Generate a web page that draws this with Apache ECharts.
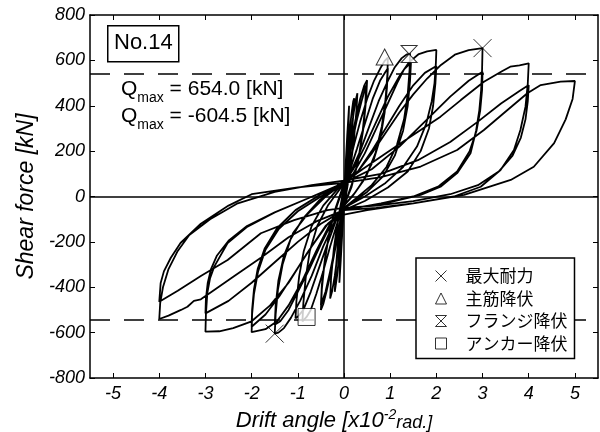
<!DOCTYPE html>
<html><head><meta charset="utf-8">
<script src="https://cdn.jsdelivr.net/npm/echarts@6/dist/echarts.min.js"></script>
<style>html,body{margin:0;padding:0;background:#fff}#c{width:600px;height:432px}</style>
</head><body><div id="c"></div>
<script>
// ---- tick labels ----
const xTicks = [-5, -4, -3, -2, -1, 0, 1, 2, 3, 4, 5];

// ---- hysteresis cycles (drift x10^-2 rad, shear kN) ----
const cycle01 = [[0,0],[0.03,120],[0.07,270],[0.11,400],[0.1,330],[0.07,200],[0.03,60],[0,-40],[-0.04,-170],[-0.07,-280],[-0.1,-380],[-0.09,-300],[-0.06,-180],[-0.02,-40],[0,30]];
const cycle02 = [[0.05,130],[0.1,250],[0.16,360],[0.2,420],[0.22,433],[0.2,360],[0.15,220],[0.08,80],[0.02,-20],[-0.05,-130],[-0.1,-250],[-0.15,-350],[-0.2,-420],[-0.18,-330],[-0.13,-200],[-0.06,-70],[0,30]];
const cycle03 = [[0.07,130],[0.14,260],[0.21,370],[0.26,430],[0.29,455],[0.27,380],[0.21,240],[0.12,100],[0.03,-10],[-0.06,-120],[-0.13,-240],[-0.2,-350],[-0.26,-420],[-0.3,-450],[-0.28,-360],[-0.22,-230],[-0.12,-90],[-0.02,20]];
const cycle04 = [[0.06,100],[0.15,230],[0.25,340],[0.35,430],[0.44,490],[0.5,513],[0.48,430],[0.42,300],[0.32,170],[0.18,60],[0.04,-20],[-0.08,-110],[-0.18,-220],[-0.28,-330],[-0.38,-420],[-0.45,-475],[-0.5,-500],[-0.48,-410],[-0.42,-290],[-0.32,-160],[-0.18,-50],[-0.03,40]];
const cycle05 = [[0.06,110],[0.16,220],[0.27,330],[0.38,420],[0.48,490],[0.46,400],[0.4,280],[0.3,150],[0.16,40],[0.02,-30],[-0.1,-120],[-0.2,-230],[-0.3,-330],[-0.4,-420],[-0.5,-480],[-0.48,-390],[-0.41,-270],[-0.3,-140],[-0.15,-40],[0,50]];
const cycle06 = [[0.1,130],[0.22,230],[0.35,330],[0.5,430],[0.65,510],[0.8,570],[0.88,598],[0.95,612],[0.94,540],[0.9,430],[0.82,310],[0.68,190],[0.48,90],[0.25,20],[0,-40],[-0.15,-120],[-0.3,-220],[-0.45,-330],[-0.6,-430],[-0.72,-500],[-0.81,-531],[-0.9,-550],[-0.88,-470],[-0.83,-360],[-0.74,-240],[-0.58,-130],[-0.35,-40],[-0.1,30],[0,60]];
const cycle07 = [[0.12,110],[0.28,210],[0.45,320],[0.62,430],[0.78,510],[0.9,550],[0.95,565],[0.93,480],[0.88,370],[0.79,260],[0.64,160],[0.42,70],[0.18,0],[0,-40],[-0.18,-110],[-0.36,-210],[-0.55,-320],[-0.72,-420],[-0.88,-500],[-1.0,-530],[-1.05,-537],[-1.03,-460],[-0.97,-350],[-0.87,-240],[-0.7,-130],[-0.45,-40],[-0.15,30],[0,60]];
const cycle08 = [[0.15,110],[0.35,200],[0.55,310],[0.75,420],[0.95,510],[1.1,570],[1.25,610],[1.35,625],[1.43,630],[1.42,560],[1.38,450],[1.3,340],[1.15,230],[0.92,130],[0.6,50],[0.25,-10],[0,-50],[-0.2,-110],[-0.45,-220],[-0.7,-350],[-0.95,-460],[-1.15,-535],[-1.3,-580],[-1.42,-600],[-1.5,-604.5],[-1.48,-520],[-1.43,-410],[-1.33,-300],[-1.16,-190],[-0.9,-100],[-0.55,-20],[-0.2,40],[0,70]];
const cycle09 = [[0.2,100],[0.45,190],[0.7,300],[0.95,410],[1.15,500],[1.3,560],[1.45,590],[1.43,510],[1.38,400],[1.28,290],[1.1,180],[0.85,90],[0.5,20],[0.15,-30],[0,-50],[-0.25,-110],[-0.5,-210],[-0.75,-320],[-1.0,-420],[-1.2,-500],[-1.38,-550],[-1.5,-565],[-1.48,-480],[-1.42,-370],[-1.3,-260],[-1.1,-160],[-0.8,-80],[-0.4,0],[0,60]];
const cycle10 = [[0.2,120],[0.45,220],[0.7,330],[0.95,440],[1.2,530],[1.4,590],[1.62,628],[1.8,640],[2.0,646],[1.99,590],[1.96,500],[1.9,420],[1.78,320],[1.58,220],[1.28,130],[0.9,60],[0.45,0],[0,-50],[-0.3,-120],[-0.6,-240],[-0.9,-370],[-1.2,-480],[-1.45,-550],[-1.7,-585],[-2.0,-598],[-1.99,-520],[-1.95,-430],[-1.86,-330],[-1.7,-235],[-1.42,-145],[-1.0,-65],[-0.5,0],[0,60]];
const cycle11 = [[0.3,110],[0.6,200],[0.9,300],[1.2,400],[1.5,490],[1.75,545],[2.0,575],[1.98,500],[1.93,400],[1.84,300],[1.66,200],[1.38,110],[0.95,40],[0.45,-20],[0,-60],[-0.35,-120],[-0.7,-220],[-1.05,-330],[-1.4,-440],[-1.7,-520],[-2.0,-574],[-1.99,-500],[-1.95,-410],[-1.87,-320],[-1.72,-230],[-1.45,-140],[-1.05,-60],[-0.5,10],[0,60]];
const cycle12 = [[0.3,110],[0.6,190],[0.9,280],[1.2,370],[1.5,450],[1.8,520],[2.1,580],[2.4,625],[2.7,645],[3.0,654],[2.99,560],[2.97,470],[2.93,380],[2.86,290],[2.74,191],[2.45,103],[2.09,43],[1.66,7],[1.0,-25],[0.4,-45],[0,-60],[-0.4,-130],[-0.8,-250],[-1.2,-380],[-1.6,-480],[-2.0,-550],[-2.4,-580],[-2.7,-594],[-3.0,-596],[-2.99,-520],[-2.96,-426],[-2.9,-360],[-2.81,-309],[-2.52,-205],[-2.09,-133],[-1.5,-70],[-0.8,-10],[0,60]];
const cycle13 = [[0.6,120],[1.2,220],[1.8,340],[2.3,440],[2.7,510],[3.0,550],[2.99,470],[2.95,380],[2.87,290],[2.72,200],[2.45,110],[2.05,45],[1.5,0],[0.8,-30],[0,-60],[-0.5,-120],[-1.0,-200],[-1.5,-290],[-2.0,-380],[-2.5,-460],[-3.0,-515],[-2.99,-450],[-2.95,-380],[-2.88,-320],[-2.75,-260],[-2.5,-195],[-2.1,-130],[-1.5,-70],[-0.8,-10],[0,60]];
const cycle14 = [[0.4,120],[0.9,190],[1.3,245],[1.66,293],[2.09,352],[2.53,425],[3.03,506],[3.43,553],[3.6,572],[3.8,578],[4.0,587],[3.98,499],[3.93,396],[3.82,293],[3.68,205],[3.39,117],[2.96,43],[2.38,0],[1.5,-30],[0.7,-50],[0,-60],[-0.6,-110],[-1.2,-180],[-1.8,-270],[-2.39,-353],[-2.81,-412],[-3.1,-453],[-3.25,-460],[-3.39,-486],[-3.53,-500],[-3.8,-525],[-4.0,-540],[-3.98,-470],[-3.92,-400],[-3.8,-320],[-3.6,-240],[-3.35,-170],[-2.9,-100],[-2.3,-30],[-1.5,20],[-0.7,50],[0,70]];
const cycle15 = [[0.8,100],[1.6,160],[2.3,240],[2.9,330],[3.4,410],[3.8,465],[4.0,491],[3.98,420],[3.93,340],[3.83,260],[3.65,180],[3.35,110],[2.9,50],[2.3,10],[1.5,-20],[0.7,-40],[0,-50],[-0.36,-60],[-1.08,-104],[-1.8,-162],[-2.52,-280],[-3.1,-350],[-3.6,-415],[-4.0,-464],[-3.97,-381],[-3.9,-330],[-3.75,-270],[-3.54,-205],[-3.1,-120],[-2.5,-40],[-2.0,10],[-1.0,40],[0,60]];
const cycle16 = [[0.8,85],[1.66,132],[2.45,205],[3.03,293],[3.54,381],[3.97,455],[4.26,491],[4.69,506],[5.0,509],[4.95,430],[4.8,340],[4.55,235],[4.11,131],[3.61,73],[2.6,7],[1.5,-30],[0.5,-60],[0,-80]];

// ---- event markers ----
const maxStrength = [[3.0, 654.0], [-1.5, -604.5]];
const mainBarYield = [[0.88, 615]];
const flangeYield = [[1.41, 628]];
const anchorYield = [[-0.81, -531]];
const qLevels = [543, -543];
const legendNames = ['最大耐力', '主筋降伏', 'フランジ降伏', 'アンカー降伏'];
const qTexts = ['654.0', '-604.5'];

const hysteresis = [].concat(cycle01, cycle02, cycle03, cycle04, cycle05, cycle06, cycle07, cycle08,
  cycle09, cycle10, cycle11, cycle12, cycle13, cycle14, cycle15, cycle16);

const FONT = '"Liberation Sans", Arial, Helvetica, sans-serif';
const JP = '"Noto Sans CJK JP", sans-serif';

const chart = echarts.init(document.getElementById('c'), null, {renderer: 'canvas'});

const axisLineStyle = {color: '#000', width: 1.5};
const italicRich = {i: {fontSize: 18, fontStyle: 'italic', fontFamily: FONT, color: '#000'}};
const xCommon = {
  type: 'value', min: -5.5, max: 5.5,
  splitLine: {show: false},
  axisLine: {show: true, onZero: false, lineStyle: axisLineStyle},
  axisTick: {show: true, inside: true, length: 5, lineStyle: {color: '#000', width: 1}, customValues: xTicks}
};
const yCommon = {
  type: 'value', min: -800, max: 800, interval: 200,
  splitLine: {show: false},
  axisLine: {show: true, onZero: false, lineStyle: axisLineStyle},
  axisTick: {show: true, inside: true, length: 5, lineStyle: {color: '#000', width: 1}}
};

const markerStyle = {color: '#fff', borderColor: '#000', borderWidth: 1};
const qRich = {
  q: {fontSize: 21, fontFamily: FONT, fill: '#000', verticalAlign: 'bottom', padding: [0, 0, 5, 0]},
  s: {fontSize: 14, fontFamily: FONT, fill: '#000', verticalAlign: 'bottom'},
  t: {fontSize: 21, fontFamily: FONT, fill: '#000', verticalAlign: 'bottom', padding: [0, 0, 5, 0]}
};

chart.setOption({
  animation: false,
  backgroundColor: '#fff',
  textStyle: {fontFamily: FONT},
  grid: {left: 90, right: 2, top: 15, bottom: 54, containLabel: false, outerBoundsMode: 'none'},
  xAxis: [
    Object.assign({}, xCommon, {
      position: 'bottom',
      axisLabel: {show: true, customValues: xTicks, color: '#000', fontSize: 18, fontStyle: 'italic', fontFamily: FONT, margin: 7,
        formatter: '{i|{value}}', rich: italicRich},
      name: '{a|Drift angle [x10}{b|-2}{c|rad.]}',
      nameLocation: 'middle', nameGap: 29,
      nameTextStyle: {
        padding: [0, 20, 0, 0],
        rich: {
          a: {fontSize: 22, fontStyle: 'italic', fontFamily: FONT, color: '#000', verticalAlign: 'bottom'},
          b: {fontSize: 14, fontStyle: 'italic', fontFamily: FONT, color: '#000', verticalAlign: 'bottom', padding: [0, 0, 10, 0]},
          c: {fontSize: 18, fontStyle: 'italic', fontFamily: FONT, color: '#000', verticalAlign: 'bottom'}
        }
      }
    }),
    Object.assign({}, xCommon, {position: 'top', axisLabel: {show: false}})
  ],
  yAxis: [
    Object.assign({}, yCommon, {
      position: 'left',
      axisLabel: {show: true, color: '#000', fontSize: 18, fontStyle: 'italic', fontFamily: FONT, margin: 5,
        formatter: '{i|{value}}', rich: italicRich},
      name: 'Shear force [kN]', nameLocation: 'middle', nameGap: 52,
      nameTextStyle: {fontSize: 23, fontStyle: 'italic', fontFamily: FONT, color: '#000'}
    }),
    Object.assign({}, yCommon, {position: 'right', axisLabel: {show: false}})
  ],
  legend: {
    show: true, orient: 'vertical', left: 416, top: 258, z: 20,
    data: legendNames, selectedMode: false,
    itemWidth: 11, itemHeight: 11, itemGap: 4.5,
    padding: [9, 7, 6, 19],
    borderColor: '#000', borderWidth: 1.5, backgroundColor: '#fff',
    textStyle: {fontFamily: JP, fontSize: 17, color: '#000', lineHeight: 18, padding: [0, 0, 0, 14]},
    itemStyle: {borderWidth: 1, borderColor: '#000'}
  },
  graphic: [
    {type: 'rect', left: 107, top: 25, shape: {width: 71, height: 36}, style: {fill: '#fff', stroke: '#000', lineWidth: 1.5}, z: 10},
    {type: 'text', left: 114, top: 32, style: {text: 'No.14', fontSize: 22, fontFamily: FONT, fill: '#000'}, z: 11},
    {type: 'text', left: 121, top: 79, z: 11, style: {text: '{q|Q}{s|max}{t| = ' + qTexts[0] + ' [kN]}', rich: qRich}},
    {type: 'text', left: 121, top: 106, z: 11, style: {text: '{q|Q}{s|max}{t| = ' + qTexts[1] + ' [kN]}', rich: qRich}}
  ],
  series: [
    {
      type: 'line', name: 'hysteresis', data: hysteresis, showSymbol: false, symbol: 'none',
      lineStyle: {color: '#000', width: 1.8}, smooth: false, z: 2, silent: true,
      markLine: {
        silent: true, symbol: ['none', 'none'], label: {show: false},
        data: [
          {xAxis: 0, lineStyle: {color: '#000', width: 1.5, type: 'solid'}},
          {yAxis: 0, lineStyle: {color: '#000', width: 1.5, type: 'solid'}},
          {yAxis: qLevels[0], lineStyle: {color: '#000', width: 1.5, type: [20, 14]}},
          {yAxis: qLevels[1], lineStyle: {color: '#000', width: 1.5, type: [20, 14]}}
        ]
      }
    },
    {type: 'scatter', name: legendNames[0], data: maxStrength, symbol: 'path://M0,0L10,10M10,0L0,10', symbolSize: 18,
      itemStyle: {color: '#000', borderColor: '#000', borderWidth: 1}, z: 5},
    {type: 'scatter', name: legendNames[1], data: mainBarYield, symbol: 'triangle', symbolSize: [17, 16], itemStyle: markerStyle, z: 5},
    {type: 'scatter', name: legendNames[2], data: flangeYield, symbol: 'path://M0,0L10,0L0,10L10,10Z', symbolSize: [16, 17], itemStyle: markerStyle, z: 5},
    {type: 'scatter', name: legendNames[3], data: anchorYield, symbol: 'rect', symbolSize: 17, itemStyle: markerStyle, z: 5}
  ]
});
</script>
</body></html>
